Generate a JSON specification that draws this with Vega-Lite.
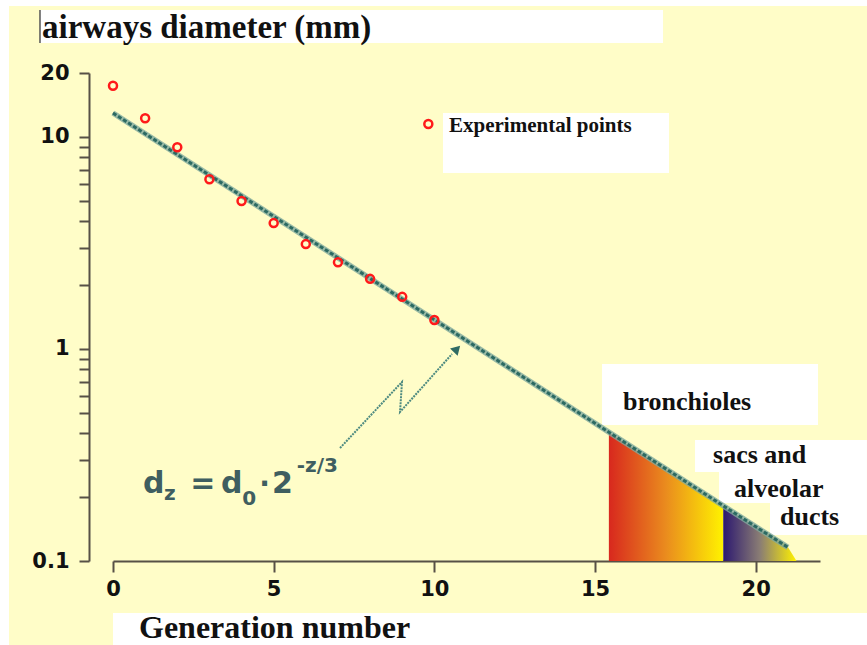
{
  "$schema": "https://vega.github.io/schema/vega-lite/v6.json",
  "width": 707,
  "height": 488,
  "autosize": {"type": "none"},
  "padding": {"left": 113, "top": 73, "right": 47, "bottom": 84},
  "background": "#FFFDC8",
  "data": {"values": [{}]},
  "config": {
    "view": {"stroke": null},
    "axis": {
      "grid": false,
      "zindex": 1,
      "labelFlush": false,
      "domainColor": "#575046",
      "domainWidth": 2,
      "tickColor": "#575046",
      "tickWidth": 2,
      "labelFont": "DejaVu Sans",
      "labelFontWeight": "bold",
      "labelFontSize": 21,
      "labelColor": "#111111"
    }
  },
  "datasets": {
    "measured": [
      {"gen": 0, "d": 17.42},
      {"gen": 1, "d": 12.23},
      {"gen": 2, "d": 8.93},
      {"gen": 3, "d": 6.31},
      {"gen": 4, "d": 4.98},
      {"gen": 5, "d": 3.92},
      {"gen": 6, "d": 3.12},
      {"gen": 7, "d": 2.56},
      {"gen": 8, "d": 2.14},
      {"gen": 9, "d": 1.76},
      {"gen": 10, "d": 1.37}
    ],
    "fit": [
      {"gen": 0, "d": 12.95},
      {"gen": 21.0, "d": 0.116}
    ],
    "bronchioles": [
      {"gen": 15.43, "d": 0.402},
      {"gen": 18.99, "d": 0.18}
    ],
    "sacs": [
      {"gen": 18.99, "d": 0.18},
      {"gen": 20.96, "d": 0.119},
      {"gen": 21.27, "d": 0.1}
    ],
    "pointer": [
      {"step": 0, "gen": 7.064, "d": 0.3409},
      {"step": 1, "gen": 8.993, "d": 0.699},
      {"step": 2, "gen": 8.931, "d": 0.5041},
      {"step": 3, "gen": 10.549, "d": 0.946}
    ]
  },
  "layer": [
    {
      "mark": {"type": "rect", "color": "white"},
      "encoding": {
        "x": {"datum": -5, "type": "quantitative", "scale": {"domain": [0, 22], "nice": false, "zero": false},
              "axis": {"values": [0, 5, 10, 15, 20], "tickSize": 11, "labelPadding": 6, "title": null}},
        "x2": {"datum": 25},
        "y": {"datum": 41.4, "type": "quantitative", "scale": {"type": "log", "domain": [0.1, 20], "nice": false},
              "axis": {"offset": 24, "tickSize": 10, "labelPadding": 10, "title": null,
                       "values": [0.1, 0.2, 0.3, 0.4, 0.5, 0.6, 0.7, 0.8, 0.9, 1, 2, 3, 4, 5, 6, 7, 8, 9, 10, 20],
                       "labelExpr": "datum.value == 0.1 ? '0.1' : datum.value == 1 ? '1' : datum.value == 10 ? '10' : datum.value == 20 ? '20' : ''"}},
        "y2": {"datum": 1000}
      }
    },
    {
      "mark": {"type": "rect", "color": "white"},
      "encoding": {
        "x": {"datum": -5}, "x2": {"datum": -3.236},
        "y": {"datum": 1000}, "y2": {"datum": 0.001}
      }
    },
    {
      "mark": {"type": "rect", "color": "white"},
      "encoding": {
        "x": {"datum": 0}, "x2": {"datum": 25},
        "y": {"datum": 0.05685}, "y2": {"datum": 0.001}
      }
    },
    {
      "mark": {"type": "rect", "color": "white"},
      "encoding": {
        "x": {"datum": -2.272}, "x2": {"datum": 17.115},
        "y": {"datum": 39.63}, "y2": {"datum": 27.7}
      }
    },
    {
      "mark": {"type": "rule", "color": "#555555", "strokeWidth": 1.5},
      "encoding": {
        "x": {"datum": -2.272},
        "y": {"datum": 39.63}, "y2": {"datum": 27.7}
      }
    },
    {
      "mark": {"type": "rect", "color": "white"},
      "encoding": {
        "x": {"datum": 10.269}, "x2": {"datum": 17.301},
        "y": {"datum": 12.95}, "y2": {"datum": 6.752}
      }
    },
    {
      "mark": {"type": "rect", "color": "white"},
      "encoding": {
        "x": {"datum": 15.217}, "x2": {"datum": 21.938},
        "y": {"datum": 0.8487}, "y2": {"datum": 0.4377}
      }
    },
    {
      "mark": {"type": "rect", "color": "white"},
      "encoding": {
        "x": {"datum": 18.11}, "x2": {"datum": 23.46},
        "y": {"datum": 0.3719}, "y2": {"datum": 0.2627}
      }
    },
    {
      "mark": {"type": "rect", "color": "white"},
      "encoding": {
        "x": {"datum": 18.857}, "x2": {"datum": 23.46},
        "y": {"datum": 0.2627}, "y2": {"datum": 0.1877}
      }
    },
    {
      "mark": {"type": "rect", "color": "white"},
      "encoding": {
        "x": {"datum": 20.444}, "x2": {"datum": 23.46},
        "y": {"datum": 0.1877}, "y2": {"datum": 0.1326}
      }
    },
    {
      "data": {"name": "bronchioles"},
      "mark": {
        "type": "area",
        "color": {
          "gradient": "linear", "x1": 0, "x2": 1, "y1": 0, "y2": 0,
          "stops": [
            {"offset": 0, "color": "#D8281E"},
            {"offset": 0.5, "color": "#EA8C1E"},
            {"offset": 1, "color": "#FFF200"}
          ]
        }
      },
      "encoding": {
        "x": {"field": "gen", "type": "quantitative"},
        "y": {"field": "d", "type": "quantitative"},
        "y2": {"datum": 0.1}
      }
    },
    {
      "data": {"name": "sacs"},
      "mark": {
        "type": "area",
        "color": {
          "gradient": "linear", "x1": 0, "x2": 1, "y1": 0, "y2": 0,
          "stops": [
            {"offset": 0, "color": "#2C1870"},
            {"offset": 0.5, "color": "#8A7D74"},
            {"offset": 1, "color": "#FFF200"}
          ]
        }
      },
      "encoding": {
        "x": {"field": "gen", "type": "quantitative"},
        "y": {"field": "d", "type": "quantitative"},
        "y2": {"datum": 0.1}
      }
    },
    {
      "data": {"name": "fit"},
      "mark": {"type": "line", "color": "#7FA99C", "strokeWidth": 5.5, "opacity": 0.8},
      "encoding": {
        "x": {"field": "gen", "type": "quantitative"},
        "y": {"field": "d", "type": "quantitative"}
      }
    },
    {
      "data": {"name": "fit"},
      "mark": {"type": "line", "color": "#2C6A62", "strokeWidth": 3, "strokeDash": [4, 2]},
      "encoding": {
        "x": {"field": "gen", "type": "quantitative"},
        "y": {"field": "d", "type": "quantitative"}
      }
    },
    {
      "data": {"name": "pointer"},
      "mark": {"type": "line", "color": "#4D8A80", "strokeWidth": 2, "strokeDash": [2, 1]},
      "encoding": {
        "x": {"field": "gen", "type": "quantitative"},
        "y": {"field": "d", "type": "quantitative"},
        "order": {"field": "step"}
      }
    },
    {
      "mark": {"type": "point", "shape": "triangle-up", "filled": true, "color": "#2F6B63", "opacity": 1, "size": 110, "angle": 44},
      "encoding": {
        "x": {"datum": 10.704},
        "y": {"datum": 1.0}
      }
    },
    {
      "data": {"name": "measured"},
      "mark": {"type": "point", "filled": false, "color": "#FF1A1A", "strokeWidth": 2.5, "size": 64, "opacity": 1},
      "encoding": {
        "x": {"field": "gen", "type": "quantitative"},
        "y": {"field": "d", "type": "quantitative"}
      }
    },
    {
      "mark": {"type": "point", "filled": false, "color": "#FF1A1A", "strokeWidth": 2.5, "size": 64, "opacity": 1},
      "encoding": {
        "x": {"datum": 9.812},
        "y": {"datum": 11.49}
      }
    },
    {
      "mark": {"type": "text", "text": "Experimental points", "align": "left", "baseline": "alphabetic",
               "font": "Liberation Serif", "fontWeight": "bold", "fontSize": 21, "color": "#111111"},
      "encoding": {"x": {"datum": 10.456}, "y": {"datum": 10.57}}
    },
    {
      "mark": {"type": "text", "text": "airways diameter (mm)", "align": "left", "baseline": "alphabetic",
               "font": "Liberation Serif", "fontWeight": "bold", "fontSize": 33, "color": "#111111"},
      "encoding": {"x": {"datum": -2.209}, "y": {"datum": 29.15}}
    },
    {
      "mark": {"type": "text", "text": "Generation number", "align": "left", "baseline": "alphabetic",
               "font": "Liberation Serif", "fontWeight": "bold", "fontSize": 32, "color": "#111111"},
      "encoding": {"x": {"datum": 0.809}, "y": {"datum": 0.04333}}
    },
    {
      "mark": {"type": "text", "text": "bronchioles", "align": "left", "baseline": "alphabetic",
               "font": "Liberation Serif", "fontWeight": "bold", "fontSize": 26, "color": "#111111"},
      "encoding": {"x": {"datum": 15.87}, "y": {"datum": 0.5151}}
    },
    {
      "mark": {"type": "text", "text": "sacs and", "align": "left", "baseline": "alphabetic",
               "font": "Liberation Serif", "fontWeight": "bold", "fontSize": 26, "color": "#111111"},
      "encoding": {"x": {"datum": 18.671}, "y": {"datum": 0.2897}}
    },
    {
      "mark": {"type": "text", "text": "alveolar", "align": "left", "baseline": "alphabetic",
               "font": "Liberation Serif", "fontWeight": "bold", "fontSize": 26, "color": "#111111"},
      "encoding": {"x": {"datum": 19.324}, "y": {"datum": 0.2002}}
    },
    {
      "mark": {"type": "text", "text": "ducts", "align": "left", "baseline": "alphabetic",
               "font": "Liberation Serif", "fontWeight": "bold", "fontSize": 26, "color": "#111111"},
      "encoding": {"x": {"datum": 20.755}, "y": {"datum": 0.1478}}
    },
    {
      "mark": {"type": "text", "text": "d", "align": "left", "baseline": "alphabetic",
               "font": "DejaVu Sans", "fontWeight": "bold", "fontSize": 30, "color": "#3F5E60"},
      "encoding": {"x": {"datum": 0.934}, "y": {"datum": 0.2092}}
    },
    {
      "mark": {"type": "text", "text": "z", "align": "left", "baseline": "alphabetic",
               "font": "DejaVu Sans", "fontWeight": "bold", "fontSize": 20, "color": "#3F5E60"},
      "encoding": {"x": {"datum": 1.587}, "y": {"datum": 0.1939}}
    },
    {
      "mark": {"type": "text", "text": "=", "align": "left", "baseline": "alphabetic",
               "font": "DejaVu Sans", "fontWeight": "bold", "fontSize": 30, "color": "#3F5E60"},
      "encoding": {"x": {"datum": 2.4}, "y": {"datum": 0.2092}}
    },
    {
      "mark": {"type": "text", "text": "d", "align": "left", "baseline": "alphabetic",
               "font": "DejaVu Sans", "fontWeight": "bold", "fontSize": 30, "color": "#3F5E60"},
      "encoding": {"x": {"datum": 3.36}, "y": {"datum": 0.2092}}
    },
    {
      "mark": {"type": "text", "text": "0", "align": "left", "baseline": "alphabetic",
               "font": "DejaVu Sans", "fontWeight": "bold", "fontSize": 20, "color": "#3F5E60"},
      "encoding": {"x": {"datum": 4.02}, "y": {"datum": 0.1836}}
    },
    {
      "mark": {"type": "text", "text": "·", "align": "left", "baseline": "alphabetic",
               "font": "DejaVu Sans", "fontWeight": "bold", "fontSize": 28, "color": "#3F5E60"},
      "encoding": {"x": {"datum": 4.55}, "y": {"datum": 0.2092}}
    },
    {
      "mark": {"type": "text", "text": "2", "align": "left", "baseline": "alphabetic",
               "font": "DejaVu Sans", "fontWeight": "bold", "fontSize": 30, "color": "#3F5E60"},
      "encoding": {"x": {"datum": 4.95}, "y": {"datum": 0.2092}}
    },
    {
      "mark": {"type": "text", "text": "-z/3", "align": "left", "baseline": "alphabetic",
               "font": "DejaVu Sans", "fontWeight": "bold", "fontSize": 20, "color": "#3F5E60"},
      "encoding": {"x": {"datum": 5.72}, "y": {"datum": 0.2627}}
    }
  ]
}
